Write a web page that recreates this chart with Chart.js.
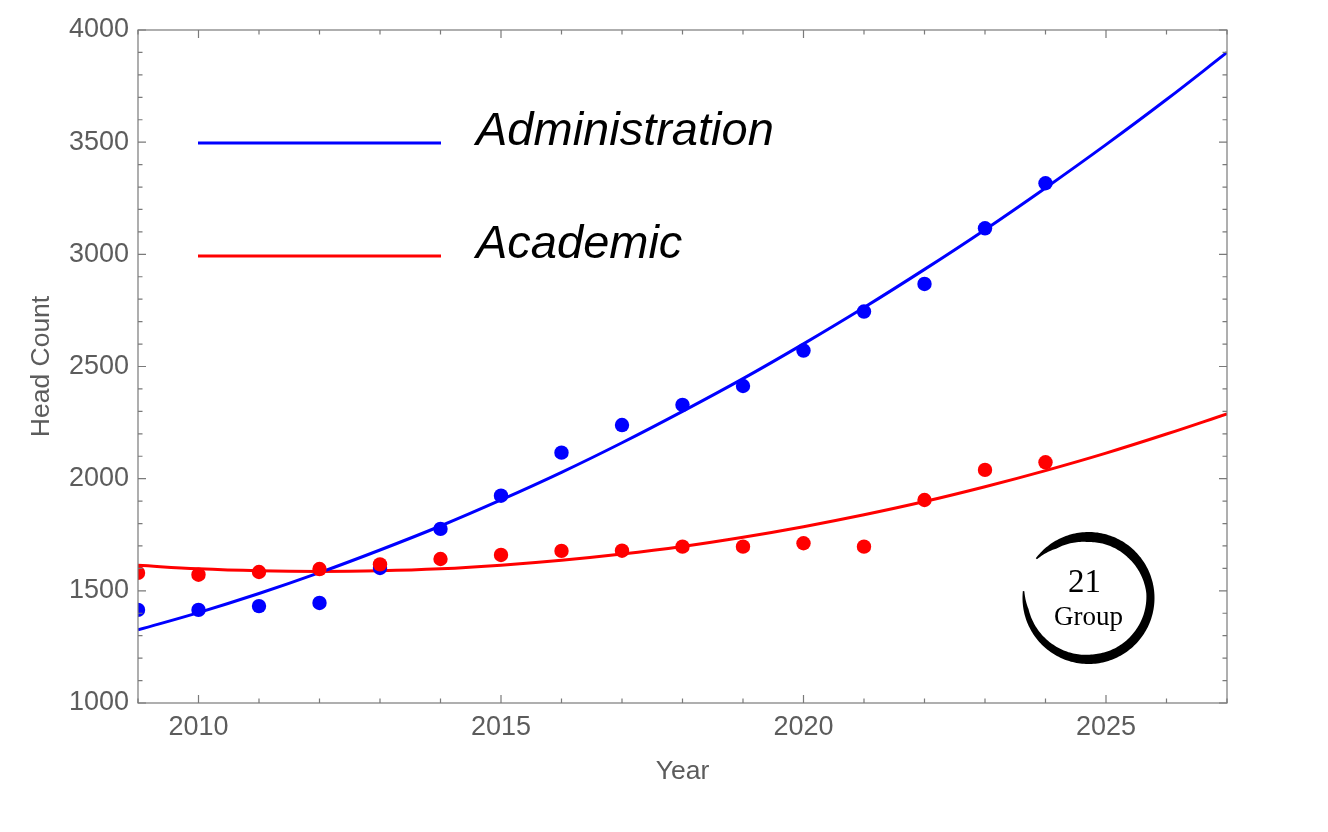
<!DOCTYPE html>
<html>
<head>
<meta charset="utf-8">
<script src="https://cdn.jsdelivr.net/npm/chart.js@4.4.0/dist/chart.umd.min.js"></script>
<style>
html,body{margin:0;padding:0;background:#ffffff;}
#wrap{width:1328px;height:832px;position:relative;}
</style>
</head>
<body>
<div id="wrap"><canvas id="c"></canvas></div>
<script>
// ---- data ----
const years = [2009,2010,2011,2012,2013,2014,2015,2016,2017,2018,2019,2020,2021,2022,2023,2024];
const adminCounts    = [1415,1415,1432,1446,1602,1776,1924,2116,2239,2329,2413,2571,2745,2868,3116,3317];
const academicCounts = [1580,1572,1584,1597,1618,1642,1660,1678,1679,1697,1697,1712,1697,1905,2039,2073];
const fitYears = [2009,2010,2011,2012,2013,2014,2015,2016,2017,2018,2019,2020,2021,2022,2023,2024,2025,2026,2027];
const adminFit    = [1326,1403,1488,1581,1682,1789,1905,2028,2160,2300,2446,2601,2763,2933,3110,3296,3489,3690,3900];
const academicFit = [1614,1598,1589,1586,1589,1598,1614,1636,1664,1698,1739,1786,1839,1898,1964,2036,2114,2199,2289];
const xTickLabels = [2010,2015,2020,2025];
const yTickLabels = [1000,1500,2000,2500,3000,3500,4000];
const seriesNames = ['Administration','Academic'];
const seriesColors = ['#0000ff','#ff0000'];
const logoText = ['21','Group'];

const pts = (xs, ys) => xs.map((x, i) => ({x: x, y: ys[i]}));

const GRAY = '#7a7a7a';
const LABEL = '#5c5c5c';

const frameTicks = {
  id: 'frameTicks',
  afterDraw(chart) {
    const {ctx, chartArea: a, scales: {x, y}} = chart;
    ctx.save();
    ctx.strokeStyle = GRAY;
    ctx.lineWidth = 1.2;
    ctx.strokeRect(a.left, a.top, a.right - a.left, a.bottom - a.top);
    ctx.beginPath();
    // y ticks
    for (let v = y.min; v <= y.max + 0.01; v += 100) {
      const py = y.getPixelForValue(v);
      const len = (Math.round(v) % 500 === 0) ? 8 : 4.5;
      ctx.moveTo(a.left, py); ctx.lineTo(a.left + len, py);
      ctx.moveTo(a.right, py); ctx.lineTo(a.right - len, py);
    }
    // x ticks
    for (let v = x.min; v <= x.max + 0.01; v += 1) {
      const px = x.getPixelForValue(v);
      const len = (Math.round(v) % 5 === 0) ? 8 : 4.5;
      ctx.moveTo(px, a.bottom); ctx.lineTo(px, a.bottom - len);
      ctx.moveTo(px, a.top); ctx.lineTo(px, a.top + len);
    }
    ctx.stroke();

    // legend
    const lx0 = a.left + 60, lx1 = a.left + 303, tx = a.left + 338;
    const rows = [a.top + 113, a.top + 226];
    ctx.font = 'italic 47px "Liberation Sans", Arial, sans-serif';
    ctx.textBaseline = 'alphabetic';
    ctx.textAlign = 'left';
    seriesNames.forEach((name, i) => {
      ctx.strokeStyle = seriesColors[i];
      ctx.lineWidth = 3;
      ctx.beginPath();
      ctx.moveTo(lx0, rows[i]); ctx.lineTo(lx1, rows[i]);
      ctx.stroke();
      ctx.fillStyle = '#000000';
      ctx.fillText(name, tx, rows[i] + 2);
    });

    // logo: brush circle
    const cx = a.right - 138.5, cy = a.bottom - 105, R = 66;
    const a0 = 217 * Math.PI / 180, a1 = a0 + 329 * Math.PI / 180;
    const prof = [[0,1.5],[0.06,7],[0.16,10],[0.3,9.5],[0.42,8],[0.55,9],[0.69,9.5],[0.82,7.5],[0.95,5],[1,1.5]];
    const widthAt = (t) => {
      for (let k = 1; k < prof.length; k++) {
        if (t <= prof[k][0]) {
          const [t0, w0] = prof[k-1], [t1, w1] = prof[k];
          return w0 + (w1 - w0) * (t - t0) / (t1 - t0);
        }
      }
      return 1.5;
    };
    const N = 200;
    ctx.fillStyle = '#000000';
    ctx.beginPath();
    for (let k = 0; k <= N; k++) {
      const ang = a0 + (a1 - a0) * k / N;
      const px = cx + R * Math.cos(ang), py = cy + R * Math.sin(ang);
      if (k === 0) ctx.moveTo(px, py); else ctx.lineTo(px, py);
    }
    for (let k = N; k >= 0; k--) {
      const ang = a0 + (a1 - a0) * k / N;
      const r = R - widthAt(k / N);
      ctx.lineTo(cx + r * Math.cos(ang), cy + r * Math.sin(ang));
    }
    ctx.closePath();
    ctx.fill();
    ctx.fillStyle = '#000000';
    ctx.textAlign = 'center';
    ctx.font = '33px "Liberation Serif", "Times New Roman", serif';
    ctx.fillText(logoText[0], cx - 4, cy - 6);
    ctx.font = '27px "Liberation Serif", "Times New Roman", serif';
    ctx.fillText(logoText[1], cx, cy + 27);
    ctx.restore();
  }
};

const ctxEl = document.getElementById('c');
new Chart(ctxEl, {
  type: 'scatter',
  data: {
    datasets: [
      { label: seriesNames[0] + ' fit', data: pts(fitYears, adminFit), showLine: true, borderColor: seriesColors[0], borderWidth: 3, pointRadius: 0, tension: 0.4, clip: 0, order: 2 },
      { label: seriesNames[1] + ' fit', data: pts(fitYears, academicFit), showLine: true, borderColor: seriesColors[1], borderWidth: 3, pointRadius: 0, tension: 0.4, clip: 0, order: 2 },
      { label: seriesNames[0], data: pts(years, adminCounts), showLine: false, backgroundColor: seriesColors[0], borderWidth: 0, pointRadius: 7.2, clip: 0, order: 1 },
      { label: seriesNames[1], data: pts(years, academicCounts), showLine: false, backgroundColor: seriesColors[1], borderWidth: 0, pointRadius: 7.2, clip: 0, order: 0 }
    ]
  },
  options: {
    responsive: true,
    maintainAspectRatio: false,
    animation: false,
    devicePixelRatio: 1,
    layout: { padding: { top: 30, right: 101, left: 0, bottom: 0 } },
    plugins: { legend: { display: false }, tooltip: { enabled: false } },
    scales: {
      x: {
        type: 'linear', min: 2009, max: 2027, position: 'bottom',
        grid: { display: false, drawTicks: false },
        border: { display: false },
        afterBuildTicks: s => { s.ticks = xTickLabels.map(v => ({value: v})); },
        afterFit: s => { s.height = 129; },
        ticks: { callback: v => String(v), color: LABEL, font: { family: '"Liberation Sans", Arial, sans-serif', size: 27 }, padding: 8, maxRotation: 0, autoSkip: false },
        title: { display: true, text: 'Year', color: LABEL, font: { family: '"Liberation Sans", Arial, sans-serif', size: 26.5 }, padding: { top: 0, bottom: 44 } }
      },
      y: {
        type: 'linear', min: 1000, max: 4000, position: 'left',
        grid: { display: false, drawTicks: false },
        border: { display: false },
        afterBuildTicks: s => { s.ticks = yTickLabels.map(v => ({value: v})); },
        afterFit: s => { s.width = 138; },
        ticks: { callback: v => String(v), color: LABEL, font: { family: '"Liberation Sans", Arial, sans-serif', size: 27 }, padding: 9, autoSkip: false },
        title: { display: true, text: 'Head Count', color: LABEL, font: { family: '"Liberation Sans", Arial, sans-serif', size: 26.5 }, padding: { top: 26, bottom: 0 } }
      }
    }
  },
  plugins: [frameTicks]
});
</script>
</body>
</html>
